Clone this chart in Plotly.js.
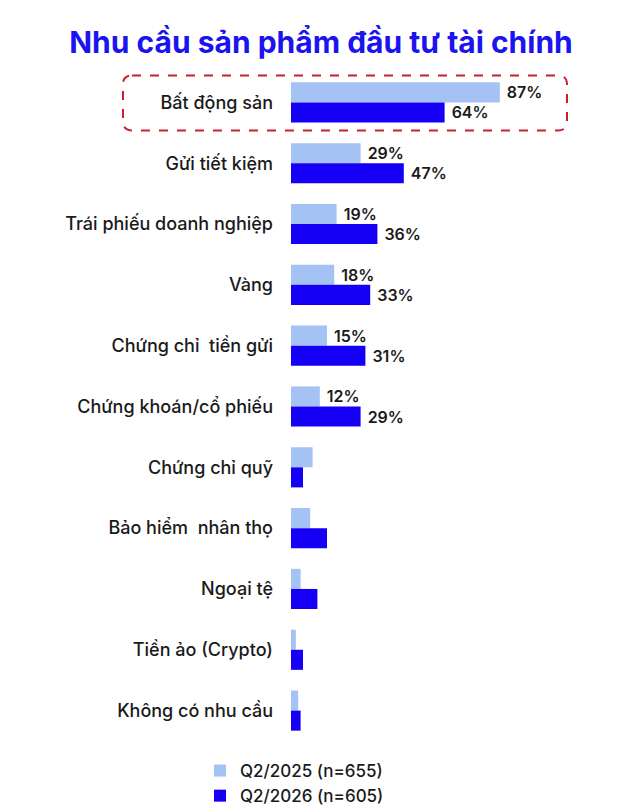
<!DOCTYPE html>
<html>
<head>
<meta charset="utf-8">
<script src="https://cdn.plot.ly/plotly-3.0.1.min.js"></script>
<style>
  html, body { margin: 0; padding: 0; background: #fff; }
  #chart { width: 617px; height: 811px; }
</style>
</head>
<body>
<div id="chart"></div>
<script>
// categories, top to bottom
const categories = [
  'Bất động sản', 'Gửi tiết kiệm', 'Trái phiếu doanh nghiệp', 'Vàng',
  'Chứng chỉ  tiền gửi', 'Chứng khoán/cổ phiếu', 'Chứng chỉ quỹ',
  'Bảo hiểm  nhân thọ', 'Ngoại tệ', 'Tiền ảo (Crypto)', 'Không có nhu cầu'
];
const q2025 = [87, 29, 19, 18, 15, 12, 9, 8, 4, 2, 3];
const q2026 = [64, 47, 36, 33, 31, 29, 5, 15, 11, 5, 4];
// only the first six groups carry a label
const labelled = 6;

const name2025 = 'Q2/2025 (n=655)';
const name2026 = 'Q2/2026 (n=605)';

function labels(vals) {
  // nbsp keeps a small gap between bar end and label
  return vals.map((v, i) => i < labelled ? '\u00a0' + v + '%' : '');
}

const W = 617, H = 811;
const m = { l: 291, r: 62, t: 71.5, b: 69.5, autoexpand: false };
const pw = W - m.l - m.r, ph = H - m.t - m.b;

// pixel -> paper helpers for the highlight box
const px = x => (x - m.l) / pw;
const py = y => 1 - (y - m.t) / ph;

function roundRect(x0, y0, x1, y1, r) {
  const rx = r / pw, ry = r / ph;
  const a = px(x0), b = px(x1), c = py(y0), d = py(y1);
  return `M ${a + rx},${c} L ${b - rx},${c} Q ${b},${c} ${b},${c - ry} ` +
         `L ${b},${d + ry} Q ${b},${d} ${b - rx},${d} L ${a + rx},${d} ` +
         `Q ${a},${d} ${a},${d + ry} L ${a},${c - ry} Q ${a},${c} ${a + rx},${c} Z`;
}

const font = 'Inter, "Noto Sans", sans-serif';

const data = [
  {
    type: 'bar', orientation: 'h', name: name2025,
    y: categories, x: q2025,
    marker: { color: '#a4c2f4' },
    text: labels(q2025), textposition: 'outside', cliponaxis: false,
    textfont: { family: font, size: 16, color: '#1a1a1a', weight: 600 },
    hoverinfo: 'x+y'
  },
  {
    type: 'bar', orientation: 'h', name: name2026,
    y: categories, x: q2026,
    marker: { color: '#1500f5' },
    text: labels(q2026), textposition: 'outside', cliponaxis: false,
    textfont: { family: font, size: 16, color: '#1a1a1a', weight: 600 },
    hoverinfo: 'x+y'
  }
];

const layout = {
  width: W, height: H,
  margin: m,
  paper_bgcolor: '#fff', plot_bgcolor: '#fff',
  font: { family: font, color: '#1a1a1a' },
  title: {
    text: 'Nhu cầu sản phẩm đầu tư tài chính',
    font: { family: font, size: 30, color: '#1c14f0', weight: 700 },
    x: 321 / W, xanchor: 'center', y: 0.948, yanchor: 'middle'
  },
  barmode: 'group',
  bargap: 0.34,
  bargroupgap: 0,
  xaxis: {
    range: [0, 110], visible: false, fixedrange: true
  },
  yaxis: {
    autorange: 'reversed', showgrid: false, zeroline: false, showline: false,
    ticks: '', ticklabelstandoff: 17,
    tickfont: { family: font, size: 18, color: '#1a1a1a', weight: 500 }
  },
  showlegend: true,
  legend: {
    orientation: 'v',
    xref: 'container', yref: 'container',
    x: 200 / W, xanchor: 'left', y: 1 - 753 / H, yanchor: 'top',
    font: { family: font, size: 17, color: '#1a1a1a', weight: 500 },
    traceorder: 'normal', itemwidth: 30, tracegroupgap: 0
  },
  shapes: [{
    type: 'path', xref: 'paper', yref: 'paper',
    path: roundRect(123, 75, 567, 130, 9),
    line: { color: '#c8202f', width: 2, dash: 'dash' },
    fillcolor: 'rgba(0,0,0,0)'
  }]
};

Plotly.newPlot('chart', data, layout, { displayModeBar: false, staticPlot: true });
</script>
</body>
</html>
